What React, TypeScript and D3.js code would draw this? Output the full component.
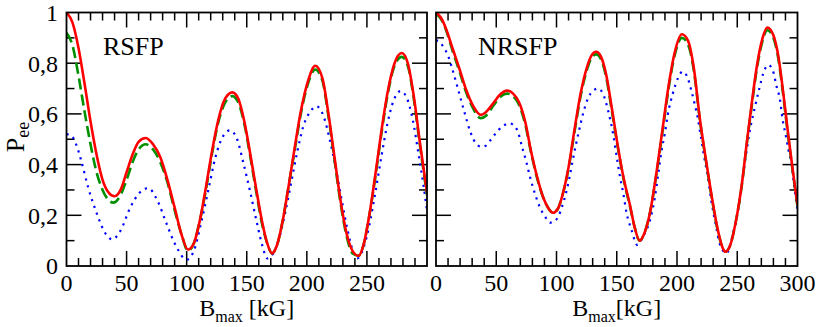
import * as d3 from "d3";

type Pt = [number, number];

// B_max [kG] vs P_ee
const yTicks = [0, 0.2, 0.4, 0.6, 0.8, 1];
const yTickLabels = ["0", "0,2", "0,4", "0,6", "0,8", "1"];
const xTicksLeft = [0, 50, 100, 150, 200, 250];
const xTicksRight = [0, 50, 100, 150, 200, 250, 300];

const rsfpSolid: Pt[] = [
  [0, 1.0], [5, 0.96], [10, 0.86], [15, 0.72], [20, 0.57], [25, 0.44], [30, 0.34], [35, 0.29], [40, 0.275],
  [45, 0.3], [50, 0.37], [55, 0.44], [60, 0.49], [66, 0.505], [72, 0.48], [78, 0.43], [84, 0.34], [90, 0.23],
  [96, 0.12], [101, 0.065], [106, 0.09], [111, 0.18], [116, 0.31], [121, 0.45], [126, 0.57], [132, 0.66],
  [138, 0.685], [143, 0.66], [148, 0.57], [153, 0.44], [158, 0.3], [163, 0.17], [167, 0.09], [171, 0.05],
  [175, 0.08], [180, 0.18], [185, 0.32], [190, 0.47], [195, 0.61], [201, 0.73], [207, 0.79], [213, 0.74],
  [218, 0.6], [223, 0.43], [228, 0.26], [233, 0.13], [238, 0.06], [243, 0.04], [247, 0.08], [252, 0.2],
  [257, 0.36], [262, 0.53], [267, 0.68], [273, 0.8], [279, 0.84], [284, 0.8], [289, 0.67], [294, 0.49], [300, 0.29],
];

const rsfpDashed: Pt[] = [
  [0, 0.92], [5, 0.87], [10, 0.75], [15, 0.61], [20, 0.48], [25, 0.37], [30, 0.3], [35, 0.26], [39, 0.25],
  [45, 0.28], [50, 0.34], [55, 0.41], [60, 0.46], [66, 0.48], [72, 0.46], [78, 0.41], [84, 0.33], [90, 0.22],
  [96, 0.12], [101, 0.06], [106, 0.09], [111, 0.18], [116, 0.3], [121, 0.44], [126, 0.56], [132, 0.645],
  [138, 0.67], [143, 0.645], [148, 0.56], [153, 0.43], [158, 0.29], [163, 0.16], [167, 0.09], [171, 0.05],
  [175, 0.08], [180, 0.18], [185, 0.32], [190, 0.46], [195, 0.6], [201, 0.72], [207, 0.775], [213, 0.73],
  [218, 0.59], [223, 0.42], [228, 0.25], [233, 0.12], [238, 0.05], [243, 0.04], [247, 0.08], [252, 0.2],
  [257, 0.35], [262, 0.52], [267, 0.67], [273, 0.79], [279, 0.825], [284, 0.79], [289, 0.66], [294, 0.48], [300, 0.28],
];

const rsfpDotted: Pt[] = [
  [0, 0.52], [4, 0.515], [8, 0.48], [12, 0.42], [18, 0.31], [25, 0.21], [31, 0.14], [38, 0.105], [45, 0.14],
  [53, 0.23], [61, 0.29], [68, 0.307], [76, 0.255], [83, 0.17], [91, 0.08], [100, 0.025], [106, 0.06],
  [112, 0.17], [118, 0.3], [124, 0.43], [130, 0.51], [136, 0.535], [142, 0.5], [147, 0.41], [153, 0.29],
  [158, 0.18], [163, 0.08], [167, 0.03], [172, 0.05], [177, 0.11], [182, 0.21], [187, 0.33], [192, 0.45],
  [197, 0.55], [203, 0.61], [208, 0.63], [214, 0.59], [219, 0.5], [224, 0.39], [229, 0.26], [234, 0.14],
  [239, 0.05], [242, 0.03], [247, 0.07], [252, 0.16], [257, 0.29], [262, 0.43], [267, 0.56], [272, 0.65],
  [278, 0.69], [283, 0.665], [288, 0.58], [293, 0.44], [297, 0.32], [300, 0.22],
];

const nrsfpSolid: Pt[] = [
  [0, 1.0], [4, 0.98], [8, 0.94], [14, 0.855], [20, 0.77], [25, 0.695], [31, 0.63], [37, 0.596], [42, 0.61],
  [48, 0.645], [54, 0.68], [59, 0.692], [64, 0.68], [69, 0.645], [74, 0.57], [79, 0.45], [84, 0.35], [89, 0.27],
  [93, 0.23], [97, 0.21], [101, 0.225], [105, 0.28], [110, 0.39], [115, 0.54], [120, 0.68], [125, 0.78],
  [129, 0.83], [133, 0.845], [137, 0.825], [141, 0.76], [146, 0.62], [151, 0.47], [156, 0.34], [161, 0.24],
  [165, 0.15], [169, 0.1], [173, 0.13], [178, 0.22], [183, 0.37], [188, 0.54], [193, 0.71], [198, 0.84],
  [204, 0.914], [209, 0.89], [214, 0.78], [219, 0.58], [224, 0.42], [229, 0.27], [234, 0.14], [238, 0.07],
  [240, 0.056], [244, 0.08], [249, 0.18], [254, 0.33], [258, 0.49], [262, 0.64], [266, 0.78], [270, 0.88],
  [275, 0.941], [280, 0.91], [284, 0.83], [288, 0.69], [292, 0.53], [296, 0.38], [300, 0.24],
];

const nrsfpDashed: Pt[] = [
  [0, 0.995], [4, 0.975], [8, 0.935], [14, 0.845], [20, 0.76], [25, 0.685], [31, 0.62], [37, 0.583], [42, 0.595],
  [48, 0.635], [54, 0.67], [59, 0.68], [64, 0.67], [69, 0.635], [74, 0.56], [79, 0.445], [84, 0.345], [89, 0.27],
  [93, 0.23], [97, 0.21], [101, 0.225], [105, 0.28], [110, 0.385], [115, 0.53], [120, 0.67], [125, 0.77],
  [129, 0.82], [133, 0.835], [137, 0.815], [141, 0.75], [146, 0.61], [151, 0.465], [156, 0.335], [161, 0.235],
  [165, 0.15], [169, 0.1], [173, 0.13], [178, 0.22], [183, 0.365], [188, 0.53], [193, 0.7], [198, 0.83],
  [204, 0.9], [209, 0.875], [214, 0.77], [219, 0.575], [224, 0.415], [229, 0.265], [234, 0.135], [238, 0.07],
  [240, 0.056], [244, 0.08], [249, 0.18], [254, 0.325], [258, 0.485], [262, 0.63], [266, 0.77], [270, 0.87],
  [275, 0.93], [280, 0.9], [284, 0.82], [288, 0.68], [292, 0.52], [296, 0.375], [300, 0.235],
];

const nrsfpDotted: Pt[] = [
  [0, 0.89], [3, 0.885], [6, 0.865], [10, 0.83], [13, 0.786], [17, 0.72], [20, 0.668], [24, 0.6], [28, 0.536],
  [31, 0.5], [35, 0.475], [38, 0.47], [41.5, 0.475], [45, 0.495], [49, 0.52], [55, 0.55], [61, 0.563], [67, 0.54],
  [72, 0.46], [75, 0.41], [78, 0.352], [82, 0.287], [86, 0.234], [90.5, 0.195], [94.6, 0.171], [99, 0.179],
  [102, 0.2], [105, 0.24], [108, 0.29], [111, 0.355], [114, 0.43], [118.5, 0.53], [122, 0.6], [126, 0.66],
  [130, 0.69], [134.5, 0.7], [139, 0.675], [143, 0.61], [147, 0.52], [150, 0.43], [152.7, 0.352], [155.4, 0.287],
  [158.2, 0.208], [162.3, 0.142], [167, 0.083], [172, 0.118], [177.6, 0.181], [181.7, 0.273], [184.5, 0.366],
  [187.3, 0.458], [190, 0.525], [192.3, 0.596], [196.5, 0.68], [200.7, 0.74], [204.7, 0.767], [209, 0.74],
  [211.8, 0.694], [214.5, 0.642], [217.3, 0.583], [220, 0.505], [223, 0.418], [225.6, 0.352], [228.4, 0.26],
  [232.5, 0.155], [235.3, 0.09], [241, 0.05], [246.5, 0.129], [250.7, 0.22], [253.3, 0.313], [257, 0.43],
  [260, 0.523], [264.7, 0.628], [268.3, 0.7], [271.6, 0.76], [275.8, 0.793], [279.4, 0.773], [282.7, 0.707],
  [285.5, 0.655], [287.7, 0.576], [290.5, 0.51], [292.4, 0.46], [295, 0.405], [297, 0.326], [300, 0.22],
];

const W = 817;
const H = 327;
const top = 12.5;
const bottom = 266;
const font = '"Liberation Serif", "Times New Roman", Times, serif';

const y = d3.scaleLinear().domain([0, 1]).range([bottom, top]);

type PanelProps = {
  id: string;
  x0: number;
  x1: number;
  solid: Pt[];
  dashed: Pt[];
  dotted: Pt[];
  title: string;
  titleX: number;
  xTicks: number[];
  axisLabelGap: string;
};

function Panel({ id, x0, x1, solid, dashed, dotted, title, titleX, xTicks, axisLabelGap }: PanelProps) {
  const x = d3.scaleLinear().domain([0, 300]).range([x0, x1]);
  const line = d3
    .line<Pt>()
    .x((d) => x(d[0]))
    .y((d) => y(d[1]))
    .curve(d3.curveMonotoneX);

  const xMinor = d3.range(10, 300, 10);
  const yMinor = d3.range(1, 10).map((i) => i / 10);

  return (
    <g>
      <defs>
        <clipPath id={id}>
          <rect x={x0} y={top} width={x1 - x0} height={bottom - top} />
        </clipPath>
      </defs>

      {/* x ticks, bottom and top, pointing in */}
      {xMinor.map((t) => {
        const major = t % 50 === 0;
        const len = major ? 15 : 8;
        return (
          <g key={"x" + t} stroke="#000" strokeWidth={1.5}>
            <line x1={x(t)} x2={x(t)} y1={bottom} y2={bottom - len} />
            <line x1={x(t)} x2={x(t)} y1={top} y2={top + len} />
          </g>
        );
      })}
      {/* y ticks, left and right, pointing in */}
      {yMinor.map((t, i) => {
        const major = (i + 1) % 2 === 0;
        const len = major ? 15 : 8;
        return (
          <g key={"y" + i} stroke="#000" strokeWidth={1.5}>
            <line x1={x0} x2={x0 + len} y1={y(t)} y2={y(t)} />
            <line x1={x1} x2={x1 - len} y1={y(t)} y2={y(t)} />
          </g>
        );
      })}

      <g clipPath={`url(#${id})`} fill="none">
        <path d={line(dotted) ?? ""} stroke="#0000ff" strokeWidth={2.2} strokeDasharray="2.2,5" />
        <path d={line(dashed) ?? ""} stroke="#009000" strokeWidth={2.6} strokeDasharray="11,5" />
        <path d={line(solid) ?? ""} stroke="#ff0000" strokeWidth={2.6} />
      </g>

      <rect x={x0} y={top} width={x1 - x0} height={bottom - top} fill="none" stroke="#000" strokeWidth={1.8} />

      {xTicks.map((t) => (
        <text key={"xl" + t} x={x(t)} y={291} textAnchor="middle" fontSize={24}>
          {t}
        </text>
      ))}

      <text x={titleX} y={55} fontSize={26}>
        {title}
      </text>

      <text x={(x0 + x1) / 2} y={316} textAnchor="middle" fontSize={24}>
        B
        <tspan fontSize={16} dy={6}>
          max
        </tspan>
        <tspan dy={-6}>{axisLabelGap + "[kG]"}</tspan>
      </text>
    </g>
  );
}

export default function App() {
  return (
    <>
      <style>{`body{margin:0}`}</style>
      <svg
        width={W}
        height={H}
        viewBox={`0 0 ${W} ${H}`}
        style={{ display: "block", background: "#fff", fontFamily: font }}
      >
        {yTicks.map((t, i) => (
          <text key={t} x={58} y={y(t)} dy="0.35em" textAnchor="end" fontSize={24}>
            {yTickLabels[i]}
          </text>
        ))}
        <text transform={`translate(24, 137) rotate(-90)`} textAnchor="middle" fontSize={26}>
          P
          <tspan fontSize={18} dy={5}>
            ee
          </tspan>
        </text>

        <Panel
          id="clipL"
          x0={66.5}
          x1={427}
          solid={rsfpSolid}
          dashed={rsfpDashed}
          dotted={rsfpDotted}
          title="RSFP"
          titleX={103}
          xTicks={xTicksLeft}
          axisLabelGap=" "
        />
        <Panel
          id="clipR"
          x0={436}
          x1={797.5}
          solid={nrsfpSolid}
          dashed={nrsfpDashed}
          dotted={nrsfpDotted}
          title="NRSFP"
          titleX={478}
          xTicks={xTicksRight}
          axisLabelGap=""
        />
      </svg>
    </>
  );
}
